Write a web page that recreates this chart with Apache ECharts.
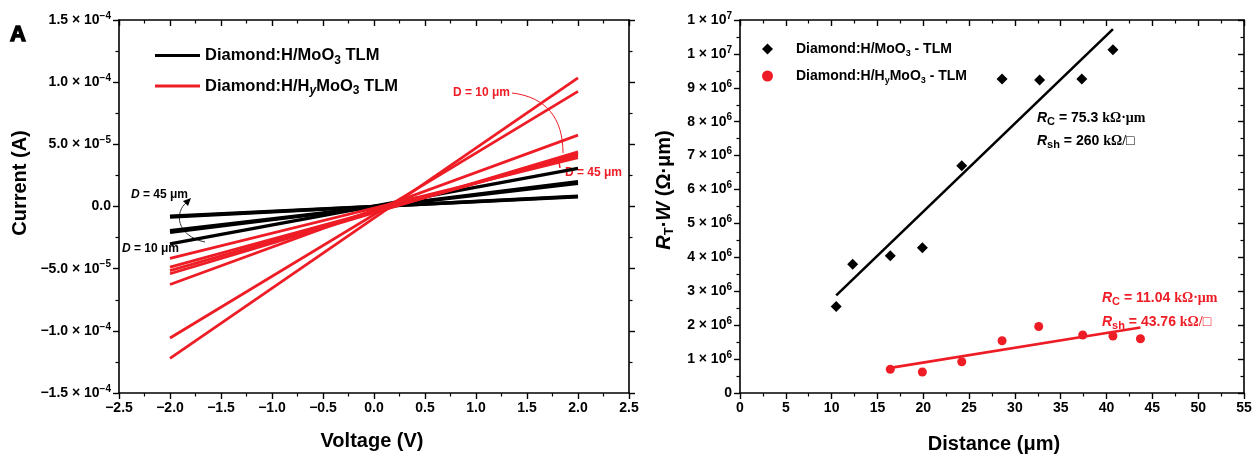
<!DOCTYPE html>
<html><head><meta charset="utf-8">
<script src="https://cdn.jsdelivr.net/npm/echarts@6/dist/echarts.min.js"></script>
<style>html,body{margin:0;padding:0;background:#fff}#c{width:1256px;height:455px}</style>
</head><body><div id="c"></div>
<script>
// ---------- Panel A: I-V curves (current in µA, read at V = -2 and V = +2) ----------
const voltageEnds = [-2, 2];
const blackStartUA = [-30.0, -20.8, -19.5, -8.5, -7.8];
const blackEndUA   = [30.7, 20.0, 18.6, 8.2, 7.8];
const redStartUA   = [-122.1, -105.8, -62.7, -54.1, -51.5, -48.8, -41.8];
const redEndUA     = [103.4, 92.6, 57.4, 44.0, 42.5, 41.0, 39.2];
const leftYTickValues = [-150, -100, -50, 0, 50, 100, 150];
const leftYTickMant = ['\u22121.5', '\u22121.0', '\u22125.0', '0.0', '5.0', '1.0', '1.5'];
const leftYTickExp  = ['\u22124', '\u22124', '\u22125', '', '\u22125', '\u22124', '\u22124'];

// ---------- Panel B: TLM (distance µm, RT·W in Ω·µm) ----------
const distMoO3 = [10.5, 12.3, 16.4, 19.9, 24.2, 28.6, 32.7, 37.3, 40.7];
const rtwMoO3  = [2.55e6, 3.80e6, 4.05e6, 4.28e6, 6.70e6, 9.26e6, 9.23e6, 9.26e6, 1.012e7];
const distHy   = [16.4, 19.9, 24.2, 28.6, 32.6, 37.4, 40.7, 43.7];
const rtwHy    = [0.70e6, 0.62e6, 0.92e6, 1.54e6, 1.96e6, 1.71e6, 1.68e6, 1.60e6];
const fitMoO3X = [10.5, 40.7];
const fitMoO3Y = [2.88e6, 10.73e6];
const fitHyX   = [16.4, 43.7];
const fitHyY   = [0.74e6, 1.93e6];

const RED = '#ee1c25';
const FONT = 'Liberation Sans, Arial, sans-serif';
const SERIF = 'Liberation Serif, Times New Roman, serif';
const nameBlackA = 'Diamond:H/MoO3 TLM';
const nameRedA = 'Diamond:H/HyMoO3 TLM';
const nameBlackB = 'Diamond:H/MoO3 - TLM';
const nameRedB = 'Diamond:H/HyMoO3 - TLM';

const tickRich = {
  n: {fontSize: 14, fontWeight: 'bold', fontFamily: FONT, color: '#000', lineHeight: 18},
  s: {fontSize: 10, fontWeight: 'bold', fontFamily: FONT, color: '#000', lineHeight: 10, verticalAlign: 'top'}
};
function minus(v) { return String(v).replace('-', '\u2212'); }

function axisBase(extra) {
  return Object.assign({
    type: 'value',
    axisLine: {show: true, onZero: false, lineStyle: {color: '#000', width: 1.6}},
    axisTick: {show: true, length: 6, lineStyle: {color: '#000', width: 1.4}},
    minorTick: {show: true, splitNumber: 2, length: 3.5, lineStyle: {color: '#000', width: 1.2}},
    splitLine: {show: false},
    axisLabel: {color: '#000', fontSize: 14, fontWeight: 'bold', fontFamily: FONT, margin: 8}
  }, extra);
}
function mirror(extra) {
  return axisBase(Object.assign({axisLabel: {show: false}}, extra));
}
const inTick = {
  axisTick: {show: true, inside: true, length: 6, lineStyle: {color: '#000', width: 1.4}},
  minorTick: {show: true, splitNumber: 2, length: 3.5, lineStyle: {color: '#000', width: 1.2}}
};

const series = [];
blackStartUA.forEach((s, i) => {
  series.push({type: 'line', name: nameBlackA, xAxisIndex: 0, yAxisIndex: 0, symbol: 'none',
    data: [[voltageEnds[0], s], [voltageEnds[1], blackEndUA[i]]],
    itemStyle: {color: '#000'}, lineStyle: {color: '#000', width: 3.4}, z: 2, silent: true});
});
redStartUA.forEach((s, i) => {
  series.push({type: 'line', name: nameRedA, xAxisIndex: 0, yAxisIndex: 0, symbol: 'none',
    data: [[voltageEnds[0], s], [voltageEnds[1], redEndUA[i]]],
    itemStyle: {color: RED}, lineStyle: {color: RED, width: 2.8}, z: 3, silent: true});
});
series.push({type: 'line', name: 'fitMoO3', xAxisIndex: 2, yAxisIndex: 2, symbol: 'none',
  data: fitMoO3X.map((x, i) => [x, fitMoO3Y[i]]), lineStyle: {color: '#000', width: 2.6}, z: 2});
series.push({type: 'line', name: 'fitHy', xAxisIndex: 2, yAxisIndex: 2, symbol: 'none',
  data: fitHyX.map((x, i) => [x, fitHyY[i]]), lineStyle: {color: RED, width: 2.6}, z: 2});
series.push({type: 'scatter', name: nameBlackB, xAxisIndex: 2, yAxisIndex: 2, symbol: 'diamond', symbolSize: 11,
  data: distMoO3.map((x, i) => [x, rtwMoO3[i]]), itemStyle: {color: '#000', opacity: 1}, z: 3});
series.push({type: 'scatter', name: nameRedB, xAxisIndex: 2, yAxisIndex: 2, symbol: 'circle', symbolSize: 9,
  data: distHy.map((x, i) => [x, rtwHy[i]]), itemStyle: {color: RED, opacity: 1}, z: 3});

const legRichA = {
  a: {fontSize: 16.5, fontWeight: 'bold', fontFamily: FONT, color: '#000', lineHeight: 22},
  b: {fontSize: 12, fontWeight: 'bold', fontFamily: FONT, color: '#000', lineHeight: 12, verticalAlign: 'bottom'},
  y: {fontSize: 12, fontWeight: 'bold', fontStyle: 'italic', fontFamily: FONT, color: '#000', lineHeight: 12, verticalAlign: 'bottom'}
};
const legRichB = {
  p: {width: 18},
  a: {fontSize: 14, fontWeight: 'bold', fontFamily: FONT, color: '#000', lineHeight: 18},
  b: {fontSize: 9, fontWeight: 'bold', fontFamily: FONT, color: '#000', lineHeight: 9, verticalAlign: 'bottom'}
};

const annRich = (col) => ({
  i: {fontSize: 14, fontWeight: 'bold', fontStyle: 'italic', fontFamily: FONT, fill: col, lineHeight: 18},
  s: {fontSize: 11, fontWeight: 'bold', fontFamily: FONT, fill: col, lineHeight: 11, verticalAlign: 'bottom'},
  n: {fontSize: 14, fontWeight: 'bold', fontFamily: FONT, fill: col, lineHeight: 18},
  u: {fontSize: 14, fontWeight: 'bold', fontFamily: SERIF, fill: col, lineHeight: 18}
});
const dRich = (col) => ({
  i: {fontSize: 12, fontWeight: 'bold', fontStyle: 'italic', fontFamily: FONT, fill: col},
  n: {fontSize: 12, fontWeight: 'bold', fontFamily: FONT, fill: col}
});

const option = {
  animation: false,
  backgroundColor: '#fff',
  grid: [
    {left: 119, right: 627, top: 20, bottom: 62},
    {left: 740, right: 12, top: 20, bottom: 62}
  ],
  xAxis: [
    axisBase({gridIndex: 0, min: -2.5, max: 2.5, interval: 0.5, position: 'bottom',
      axisLabel: {color: '#000', fontSize: 14, fontWeight: 'bold', fontFamily: FONT, margin: 8,
        formatter: v => minus(v.toFixed(1))}}),
    mirror(Object.assign({gridIndex: 0, min: -2.5, max: 2.5, interval: 0.5, position: 'top'}, inTick)),
    axisBase({gridIndex: 1, min: 0, max: 55, interval: 5, position: 'bottom'}),
    mirror(Object.assign({gridIndex: 1, min: 0, max: 55, interval: 5, position: 'top'}, inTick))
  ],
  yAxis: [
    axisBase({gridIndex: 0, min: -150, max: 150, interval: 50, position: 'left',
      axisLabel: {margin: 8, rich: tickRich, formatter: v => {
        const k = leftYTickValues.indexOf(Math.round(v));
        if (k < 0) return '';
        return leftYTickExp[k] ? '{n|' + leftYTickMant[k] + ' \u00d7 10}{s|' + leftYTickExp[k] + '}' : '{n|' + leftYTickMant[k] + '}';
      }}}),
    mirror({gridIndex: 0, min: -150, max: 150, interval: 50, position: 'right'}),
    axisBase({gridIndex: 1, min: 0, max: 1.1e7, interval: 1e6, position: 'left',
      axisLabel: {margin: 8, rich: tickRich, formatter: v => {
        if (v === 0) return '{n|0}';
        const e = Math.floor(Math.log10(v) + 1e-9);
        const m = Math.floor(v / Math.pow(10, e) + 1e-9);
        return '{n|' + m + ' \u00d7 10}{s|' + e + '}';
      }}}),
    mirror(Object.assign({gridIndex: 1, min: 0, max: 1.1e7, interval: 1e6, position: 'right'}, inTick))
  ],
  legend: [
    {orient: 'vertical', left: 150, top: 42, itemGap: 11, itemWidth: 45, itemHeight: 3, icon: 'rect',
     selectedMode: false, data: [nameBlackA, nameRedA], textStyle: {rich: legRichA},
     formatter: n => n === nameBlackA ? '{a|Diamond:H/MoO}{b|3}{a| TLM}' : '{a|Diamond:H/H}{y|y}{a|MoO}{b|3}{a| TLM}'},
    {orient: 'vertical', left: 757, top: 37, itemGap: 11, itemWidth: 11, itemHeight: 11,
     selectedMode: false, data: [nameBlackB, nameRedB], textStyle: {rich: legRichB},
     formatter: n => n === nameBlackB ? '{p|}{a|Diamond:H/MoO}{b|3}{a| - TLM}' : '{p|}{a|Diamond:H/H}{b|y}{a|MoO}{b|3}{a| - TLM}'}
  ],
  graphic: [
    {type: 'text', x: 10, y: 24, style: {text: 'A', font: '900 22px ' + FONT, fill: '#000', stroke: '#000', lineWidth: 1.4}},
    {type: 'text', x: 20, y: 183, rotation: Math.PI / 2, style: {text: 'Current (A)', font: 'bold 20px ' + FONT, fill: '#000', align: 'center', verticalAlign: 'middle'}},
    {type: 'text', x: 372, y: 441, style: {text: 'Voltage (V)', font: 'bold 20px ' + FONT, fill: '#000', align: 'center', verticalAlign: 'middle'}},
    {type: 'text', x: 994, y: 444, style: {text: 'Distance (\u03bcm)', font: 'bold 20px ' + FONT, fill: '#000', align: 'center', verticalAlign: 'middle'}},
    {type: 'text', x: 664, y: 190, rotation: Math.PI / 2, style: {
      text: '{i|R}{s|T}{n|\u00b7}{i|W}{n| (\u03a9\u00b7\u03bcm)}', align: 'center', verticalAlign: 'middle',
      rich: {
        i: {fontSize: 20, fontWeight: 'bold', fontStyle: 'italic', fontFamily: FONT, fill: '#000', lineHeight: 24},
        s: {fontSize: 13, fontWeight: 'bold', fontFamily: FONT, fill: '#000', lineHeight: 13, verticalAlign: 'bottom'},
        n: {fontSize: 20, fontWeight: 'bold', fontFamily: FONT, fill: '#000', lineHeight: 24}
      }}},
    // Panel A annotations
    {type: 'text', x: 131, y: 195, style: {text: '{i|D}{n| = 45 \u03bcm}', verticalAlign: 'middle', rich: dRich('#000')}},
    {type: 'text', x: 122, y: 249, style: {text: '{i|D}{n| = 10 \u03bcm}', verticalAlign: 'middle', rich: dRich('#000')}},
    {type: 'bezierCurve', shape: {x1: 205, y1: 242, cpx1: 176, cpy1: 236, cpx2: 174, cpy2: 212, x2: 187, y2: 202},
      style: {stroke: '#333', lineWidth: 1, fill: null}},
    {type: 'polygon', shape: {points: [[191, 198], [183, 201], [188, 206]]}, style: {fill: '#000'}},
    {type: 'text', x: 453, y: 93, style: {text: '{n|D = 10 \u03bcm}', verticalAlign: 'middle', rich: dRich(RED)}},
    {type: 'text', x: 565, y: 173, style: {text: '{n|D = 45 \u03bcm}', verticalAlign: 'middle', rich: dRich(RED)}},
    {type: 'bezierCurve', shape: {x1: 512, y1: 93, cpx1: 546, cpy1: 97, cpx2: 563, cpy2: 118, x2: 563, y2: 153},
      style: {stroke: RED, lineWidth: 1, fill: null}},
    {type: 'line', shape: {x1: 559, y1: 162, x2: 560, y2: 168}, style: {stroke: RED, lineWidth: 1.5}},
    // Panel B annotations
    {type: 'text', x: 1037, y: 118, style: {text: '{i|R}{s|C}{n| = 75.3 }{u|k\u03a9\u00b7\u03bcm}', verticalAlign: 'middle', rich: annRich('#000')}},
    {type: 'text', x: 1037, y: 141, style: {text: '{i|R}{s|sh}{n| = 260 }{u|k\u03a9/\u25a1}', verticalAlign: 'middle', rich: annRich('#000')}},
    {type: 'text', x: 1102, y: 298, style: {text: '{i|R}{s|C}{n| = 11.04 }{u|k\u03a9\u00b7\u03bcm}', verticalAlign: 'middle', rich: annRich(RED)}},
    {type: 'text', x: 1102, y: 322, style: {text: '{i|R}{s|sh}{n| = 43.76 }{u|k\u03a9/\u25a1}', verticalAlign: 'middle', rich: annRich(RED)}}
  ],
  series: series
};
const chart = echarts.init(document.getElementById('c'), null, {renderer: 'canvas'});
chart.setOption(option);
</script></body></html>
